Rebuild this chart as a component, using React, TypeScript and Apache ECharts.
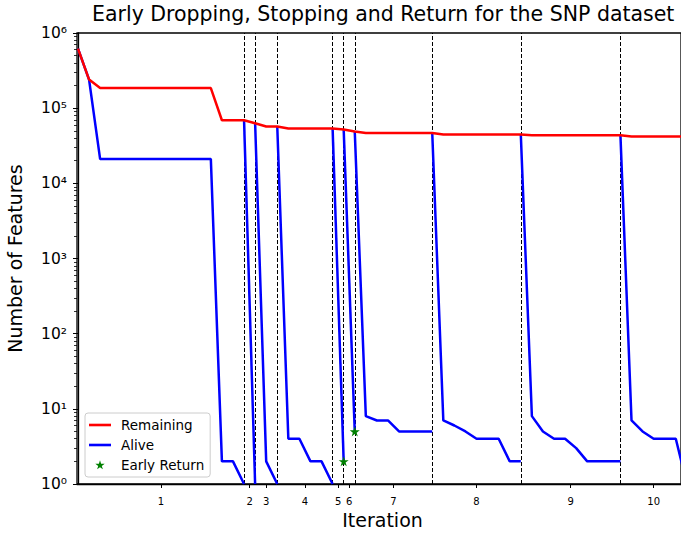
import React, { useEffect, useRef } from "react";
import * as echarts from "echarts";

const FONT = "DejaVu Sans, Liberation Sans, sans-serif";

// Remaining features per step (index 0..55)
const remaining = [
  6.2e5, 2.4e5,
  1.85e5, 1.85e5, 1.85e5, 1.85e5, 1.85e5, 1.85e5, 1.85e5, 1.85e5, 1.85e5, 1.85e5, 1.85e5,
  6.9e4, 6.9e4, 6.9e4,
  6.3e4,
  5.7e4, 5.7e4,
  5.35e4, 5.35e4, 5.35e4, 5.35e4, 5.35e4,
  5.2e4,
  4.9e4,
  4.67e4, 4.67e4, 4.67e4, 4.67e4, 4.67e4, 4.67e4, 4.67e4,
  4.45e4, 4.45e4, 4.45e4, 4.45e4, 4.45e4, 4.45e4, 4.45e4, 4.45e4,
  4.35e4, 4.35e4, 4.35e4, 4.35e4, 4.35e4, 4.35e4, 4.35e4, 4.35e4, 4.35e4,
  4.2e4, 4.2e4, 4.2e4, 4.2e4, 4.2e4, 4.2e4,
];

// Alive features: one segment per iteration, each starting at the given step
const aliveStarts = [0, 15, 16, 18, 23, 24, 25, 32, 40, 49];
const aliveSeg1 = [6.2e5, 2.4e5, 2.1e4, 2.1e4, 2.1e4, 2.1e4, 2.1e4, 2.1e4, 2.1e4, 2.1e4, 2.1e4, 2.1e4, 2.1e4, 2, 2, 1];
const aliveSeg2 = [6.9e4, 1];
const aliveSeg3 = [6.3e4, 2, 1];
const aliveSeg4 = [5.7e4, 4, 4, 2, 2, 1];
const aliveSeg5 = [5.35e4, 2];
const aliveSeg6 = [5.2e4, 5];
const aliveSeg7 = [4.9e4, 8, 7, 7, 5, 5, 5, 5];
const aliveSeg8 = [4.67e4, 7, 6, 5, 4, 4, 4, 2, 2];
const aliveSeg9 = [4.45e4, 8, 5, 4, 4, 3, 2, 2, 2, 2];
const aliveSeg10 = [4.35e4, 7, 5, 4, 4, 4, 1];
const aliveSegments = [aliveSeg1, aliveSeg2, aliveSeg3, aliveSeg4, aliveSeg5, aliveSeg6, aliveSeg7, aliveSeg8, aliveSeg9, aliveSeg10];

// Early return points
const earlyReturnX = [24, 25];
const earlyReturnY = [2, 5];

// Iteration boundaries (dashed lines) and iteration tick labels
const iterationBoundaries = [15, 16, 18, 23, 24, 25, 32, 40, 49];
const iterationTickPositions = [7.5, 15.5, 17, 20.5, 23.5, 24.5, 28.5, 36, 44.5, 52];
const iterationLabels = ["1", "2", "3", "4", "5", "6", "7", "8", "9", "10"];

const SUP = ["⁰", "¹", "²", "³", "⁴", "⁵", "⁶", "⁷", "⁸", "⁹"];

const STAR =
  "path://M50,0 L61.2,34.5 L97.6,34.5 L68.2,55.9 L79.4,90.5 L50,69.1 L20.6,90.5 L31.8,55.9 L2.4,34.5 L38.8,34.5 Z";
const STAR_PADDED =
  "path://M-22,-24 L-22,-24 M122,118 L122,118 M50,0 L61.2,34.5 L97.6,34.5 L68.2,55.9 L79.4,90.5 L50,69.1 L20.6,90.5 L31.8,55.9 L2.4,34.5 L38.8,34.5 Z";
const LINE_ICON = "path://M0,0 L0,0 M22,14 L22,14 M0,5.7 L22,5.7 L22,8.3 L0,8.3 Z";

export default function App() {
  const ref = useRef<HTMLDivElement>(null);

  useEffect(() => {
    if (!ref.current) return;
    const chart = echarts.init(ref.current, undefined, { renderer: "svg" });

    const minorTicks: number[] = [];
    for (let n = 0; n < 6; n++) {
      for (let k = 2; k <= 9; k++) minorTicks.push(n + Math.log10(k));
    }

    const aliveSeries = aliveSegments.map((seg, si) => ({
      name: "Alive",
      type: "line",
      data: seg.map((v, i) => [aliveStarts[si] + i, v]),
      symbol: "none",
      showSymbol: false,
      lineStyle: { color: "#0000ff", width: 2.5 },
      itemStyle: { color: "#0000ff" },
      z: 3,
    }));

    const option: any = {
      animation: false,
      backgroundColor: "#ffffff",
      textStyle: { fontFamily: FONT },
      title: {
        text: "Early Dropping, Stopping and Return for the SNP dataset",
        left: 92,
        top: 3,
        padding: 0,
        textStyle: { fontFamily: FONT, fontSize: 20.5, fontWeight: "normal", color: "#000" },
      },
      grid: {
        left: 77,
        right: 0,
        top: 33,
        bottom: 50,
        containLabel: false,
        outerBoundsMode: "none",
        show: true,
        borderColor: "#000",
        borderWidth: 1.3,
        backgroundColor: "transparent",
      },
      legend: {
        orient: "vertical",
        left: 85,
        top: 413,
        itemWidth: 22,
        itemHeight: 14,
        itemGap: 6,
        padding: [5, 6, 5, 4],
        borderColor: "#cccccc",
        borderWidth: 1,
        borderRadius: 3,
        backgroundColor: "rgba(255,255,255,0.85)",
        textStyle: { fontFamily: FONT, fontSize: 13.5, color: "#000", padding: [0, 0, 0, 5] },
        data: [
          { name: "Remaining", icon: LINE_ICON },
          { name: "Alive", icon: LINE_ICON },
          { name: "Early Return", icon: STAR_PADDED },
        ],
      },
      xAxis: {
        type: "value",
        min: -0.09,
        max: 54.47,
        name: "Iteration",
        nameLocation: "middle",
        nameGap: 25,
        nameTextStyle: { fontFamily: FONT, fontSize: 19, color: "#000", padding: [0, 0, 0, 7] },
        axisLine: { show: true, lineStyle: { color: "#000", width: 1.3 } },
        axisTick: { show: true, length: 4, customValues: iterationTickPositions, lineStyle: { color: "#000", width: 1 } },
        axisLabel: {
          customValues: iterationTickPositions,
          fontFamily: FONT,
          fontSize: 10,
          color: "#000",
          margin: 12,
          formatter: (v: number) => {
            const idx = iterationTickPositions.findIndex((p) => Math.abs(p - v) < 1e-6);
            return idx >= 0 ? iterationLabels[idx] : "";
          },
        },
        splitLine: { show: false },
      },
      yAxis: [
        {
          type: "log",
          logBase: 10,
          min: 1,
          max: 1e6,
          splitNumber: 6,
          name: "Number of Features",
          nameLocation: "middle",
          nameGap: 53,
          nameTextStyle: { fontFamily: FONT, fontSize: 19, color: "#000" },
          axisLine: { show: true, lineStyle: { color: "#000", width: 1.3 } },
          axisTick: { show: true, length: 5, lineStyle: { color: "#000", width: 1 } },
          axisLabel: {
            fontFamily: FONT,
            fontSize: 15.5,
            color: "#000",
            margin: 10,
            formatter: (v: number) => {
              const e = Math.round(Math.log10(v));
              return "10" + String(e).split("").map((c) => SUP[+c]).join("");
            },
          },
          splitLine: { show: false },
          minorTick: { show: false },
        },
        {
          type: "value",
          min: 0,
          max: 6,
          position: "left",
          axisLine: { show: false },
          axisLabel: { show: false },
          splitLine: { show: false },
          axisTick: { show: true, length: 3, customValues: minorTicks, lineStyle: { color: "#000", width: 0.8 } },
        },
      ],
      series: [
        {
          name: "Remaining",
          type: "line",
          data: remaining.map((v, i) => [i, v]),
          symbol: "none",
          showSymbol: false,
          lineStyle: { color: "#ff0000", width: 2.5 },
          itemStyle: { color: "#ff0000" },
          z: 4,
        },
        ...aliveSeries,
        {
          name: "Early Return",
          type: "scatter",
          data: earlyReturnX.map((x, i) => [x, earlyReturnY[i]]),
          symbol: STAR,
          symbolSize: 10,
          itemStyle: { color: "#008000", opacity: 1 },
          z: 5,
        },
        {
          name: "boundaries",
          type: "line",
          data: [],
          silent: true,
          z: 1,
          markLine: {
            silent: true,
            symbol: ["none", "none"],
            z: 1,
            label: { show: false },
            lineStyle: { type: [4, 2], color: "#000", width: 1 },
            emphasis: { disabled: true },
            data: iterationBoundaries.map((b) => ({ xAxis: b })),
          },
        },
      ],
    };

    chart.setOption(option);
    return () => chart.dispose();
  }, []);

  return (
    <div
      ref={ref}
      style={{ position: "fixed", left: 0, top: 0, width: 681, height: 534, background: "#fff" }}
    />
  );
}
